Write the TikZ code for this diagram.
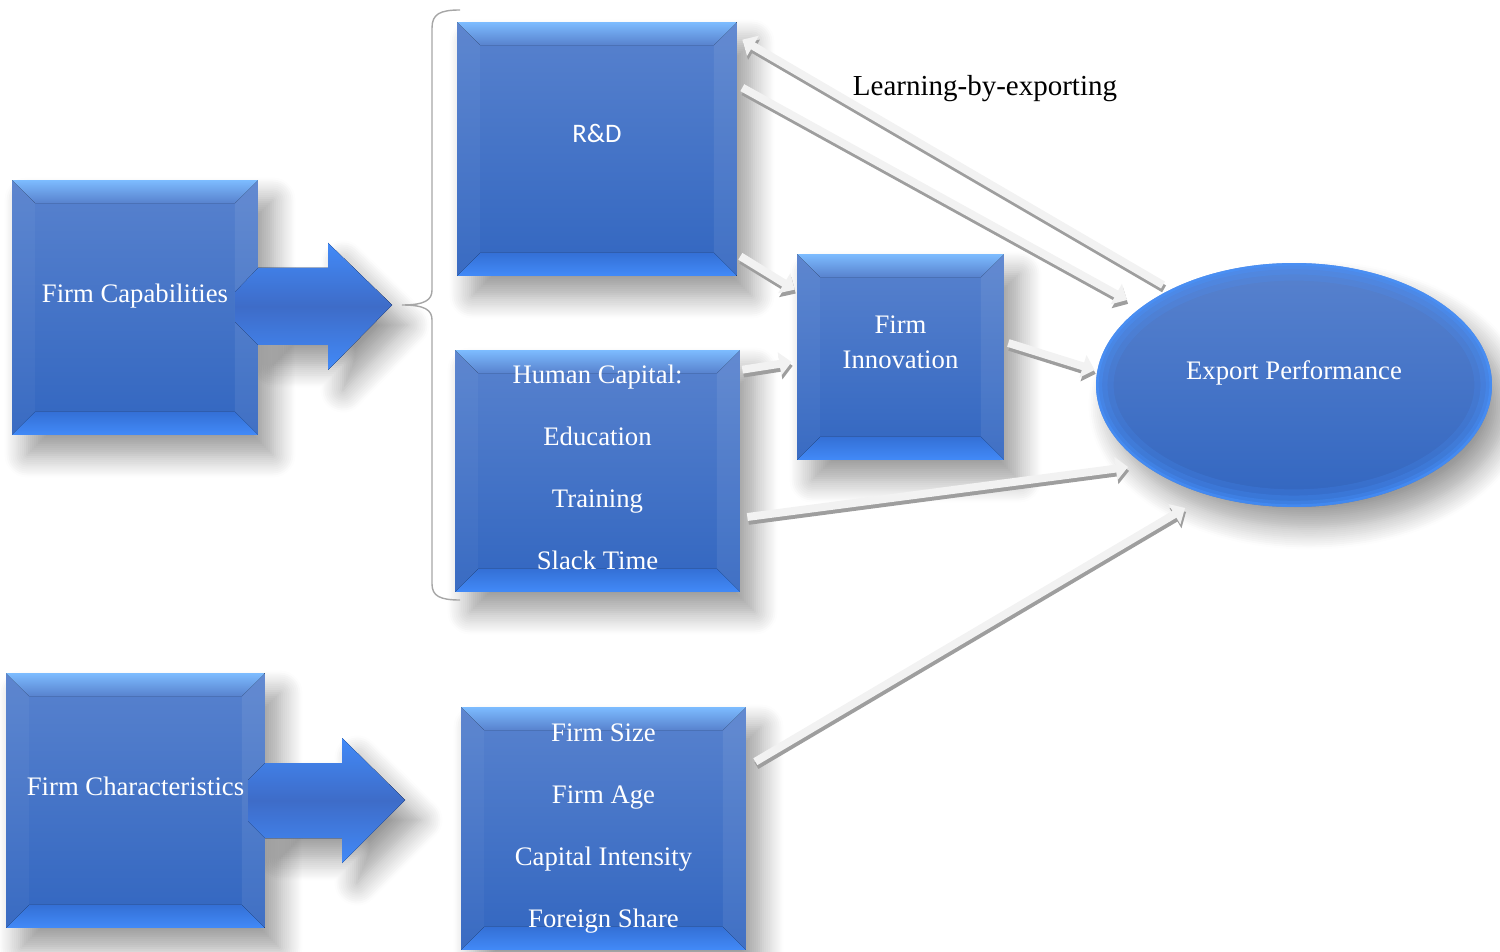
\documentclass[tikz,border=0pt]{standalone}
\usepackage{fontspec}
\setmainfont{Liberation Serif}
\newfontfamily\calibri{Carlito}
\usetikzlibrary{arrows.meta, shapes.geometric, shadows.blur, calc}

\definecolor{boxtop}{RGB}{88,130,206}
\definecolor{boxbot}{RGB}{50,102,192}
\definecolor{bevlite}{RGB}{125,188,255}
\definecolor{bevlow}{RGB}{66,138,248}
\definecolor{bevmid}{RGB}{52,112,214}
\definecolor{ringblue}{RGB}{72,148,255}
\definecolor{coreblue}{RGB}{62,108,200}
\definecolor{arrface}{RGB}{242,242,242}
\definecolor{arrside}{RGB}{158,158,158}

\tikzset{> = {Triangle[width = 13pt, length = 7pt]}}
\tikzset{
  bevel/.style = {path picture = {
      \path (path picture bounding box.north west) coordinate (bnw)
            (path picture bounding box.north east) coordinate (bne)
            (path picture bounding box.south west) coordinate (bsw)
            (path picture bounding box.south east) coordinate (bse);
      \fill[white, fill opacity = 0.04] (bnw) -- ([shift = {(0.46cm,-0.46cm)}]bnw) -- ([shift = {(0.46cm,0.46cm)}]bsw) -- (bsw) -- cycle;
      \fill[white, fill opacity = 0.07] (bne) -- ([shift = {(-0.46cm,-0.46cm)}]bne) -- ([shift = {(-0.46cm,0.46cm)}]bse) -- (bse) -- cycle;
      \fill[top color = bevlite, bottom color = boxtop] (bnw) -- (bne) -- ([shift = {(-0.46cm,-0.46cm)}]bne) -- ([shift = {(0.46cm,-0.46cm)}]bnw) -- cycle;
      \fill[top color = bevmid, bottom color = bevlow] (bsw) -- (bse) -- ([shift = {(-0.46cm,0.46cm)}]bse) -- ([shift = {(0.46cm,0.46cm)}]bsw) -- cycle;
    }},
  rim/.style = {path picture = {
      \draw[ringblue, line width = 20pt, opacity = 0.18] (path picture bounding box.center) ellipse [x radius = 3.96cm, y radius = 2.44cm];
      \draw[ringblue, line width = 13pt, opacity = 0.22] (path picture bounding box.center) ellipse [x radius = 3.96cm, y radius = 2.44cm];
      \draw[ringblue, line width = 7pt, opacity = 0.3] (path picture bounding box.center) ellipse [x radius = 3.96cm, y radius = 2.44cm];
      \draw[ringblue, line width = 3pt, opacity = 0.5] (path picture bounding box.center) ellipse [x radius = 3.96cm, y radius = 2.44cm];
    }},
  soft/.style = {blur shadow = {shadow xshift = 0.3cm, shadow yshift = -0.4cm, shadow blur radius = 0.45cm, shadow blur steps = 12, shadow opacity = 40}},
  capbox/.style = {top color = boxtop, bottom color = boxbot, bevel, soft, text = white, align = center, inner sep = 0pt,
    font = \fontsize{15.2}{19.9}\selectfont},
  listbox/.style = {capbox, font = \fontsize{15.2}{35.3}\selectfont},
  oval/.style = {ellipse, top color = boxtop, bottom color = boxbot, rim, soft, text = white, inner sep = 0pt,
    align = center, font = \fontsize{15.2}{19.9}\selectfont},
  bigarrow/.style = {top color = bevlow, bottom color = bevlow, middle color = coreblue},
  flow/.style = {draw = arrface, line width = 4.5pt, ->,
    preaction = {draw = arrside, line width = 4.5pt, ->, transform canvas = {shift = {(0.6pt,-2.2pt)}}}},
  brace/.style = {draw = gray!70, line width = 0.8pt}
}

\begin{document}
\begin{tikzpicture}[x = 0.02cm, y = -0.02cm]
  \useasboundingbox (0,0) rectangle (1500,952);

  % shadows of the block arrows go under the boxes
  \fill[bigarrow, soft] (258,268) -- (328,268) -- (328,243) -- (392,305) -- (328,370) -- (328,345) -- (258,345) -- cycle;
  \fill[bigarrow, soft] (265,763) -- (342,763) -- (342,738) -- (405,800) -- (342,863) -- (342,838) -- (265,838) -- cycle;

  \node [capbox, minimum width = 4.92cm, minimum height = 5.1cm]  (fc)  at (135,307.5) {Firm Capabilities\\[-3.4pt]\mbox{}};
  \node [capbox, minimum width = 5.18cm, minimum height = 5.1cm]  (fch) at (135.5,800.5) {Firm Characteristics\\[-4pt]\mbox{}};
  \node [capbox, minimum width = 5.6cm, minimum height = 5.08cm]  (rd)  at (597,149) {\calibri R\&D\\[-2.5pt]\mbox{}};
  \node [listbox, minimum width = 5.7cm, minimum height = 4.84cm] (hc)  at (597.5,471) {Human Capital:\\Education\\Training\\Slack Time\\[-31pt]\mbox{}};
  \node [capbox, minimum width = 4.14cm, minimum height = 4.12cm] (fi)  at (900.5,357) {Firm\\Innovation\\[-3.4pt]\mbox{}};
  \node [listbox, minimum width = 5.7cm, minimum height = 4.86cm] (fs)  at (603.5,828.5) {Firm Size\\Firm Age\\Capital Intensity\\Foreign Share};
  \node [oval, minimum width = 7.92cm, minimum height = 4.88cm]   (ep)  at (1294,385) {Export Performance\\[-3.4pt]\mbox{}};

  % block arrows into the brace and the list box
  \fill[bigarrow] (258,268) -- (328,268) -- (328,243) -- (392,305) -- (328,370) -- (328,345) -- (258,345) -- (235,322) -- (235,292) -- cycle;
  \fill[bigarrow] (265,763) -- (342,763) -- (342,738) -- (405,800) -- (342,863) -- (342,838) -- (265,838) -- (248,821) -- (248,780) -- cycle;

  \draw[brace] (460,10) .. controls (440,10) and (432,14) .. (432,28) -- (432,290)
    .. controls (432,300) and (425,305) .. (402,305) .. controls (425,305) and (432,310) .. (432,320)
    -- (432,584) .. controls (432,596) and (440,600) .. (460,600);

  \draw[flow] ([shift = {(-131,-100)}]ep.center) -- ([shift = {(5,18)}]rd.north east);
  \draw[flow] ([shift = {(5,66)}]rd.north east)  -- ([shift = {(-167,-85)}]ep.center);
  \draw[flow] ([shift = {(3,-20)}]rd.south east) -- ([shift = {(-2,36)}]fi.north west);
  \draw[flow] ([shift = {(2,20)}]hc.north east)  -- ([shift = {(-5,5)}]fi.west);
  \draw[flow] ([shift = {(4,-14)}]fi.east)       -- ([shift = {(-1,-15)}]ep.west);
  \draw[flow] ([shift = {(7,46)}]hc.east)        -- ([shift = {(-166,82)}]ep.center);
  \draw[flow] ([shift = {(9,55)}]fs.north east)  -- ([shift = {(-109,123)}]ep.center);

  \node [font = \fontsize{16.5}{20}\selectfont] (lbe) at (985,89) {Learning-by-exporting};
\end{tikzpicture}
\end{document}
